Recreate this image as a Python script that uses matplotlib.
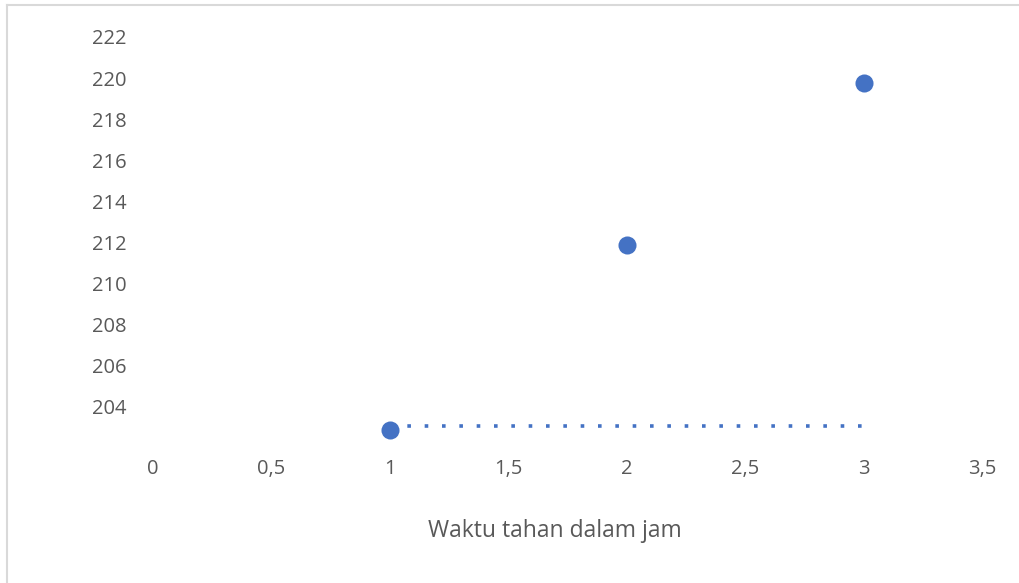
import matplotlib.pyplot as plt
from matplotlib.lines import Line2D

# data
waktu = [1, 2, 3]
nilai = [202.9, 211.9, 219.75]
garis_x = [1, 3]
garis_y = [203.05, 203.05]

x_ticks = [0, 0.5, 1, 1.5, 2, 2.5, 3, 3.5]
x_labels = ["0", "0,5", "1", "1,5", "2", "2,5", "3", "3,5"]
y_ticks = [204, 206, 208, 210, 212, 214, 216, 218, 220, 222]

plt.rcParams["font.family"] = ["Open Sans", "DejaVu Sans"]

BLUE = "#4472C4"
GRAY = "#595959"

fig = plt.figure(figsize=(10.2, 5.83), dpi=100)
ax = fig.add_axes([153 / 1020, 1 - 448 / 583, (982 - 153) / 1020, (448 - 37) / 583])

ax.plot(garis_x, garis_y, color=BLUE, linewidth=2.6, dashes=(1, 3.8),
        dash_capstyle="butt", zorder=2)
ax.plot(waktu, nilai, "o", color=BLUE, markersize=13, markeredgewidth=0, zorder=3)

ax.set_xlim(0, 3.5)
ax.set_ylim(202, 222)
ax.set_xticks(x_ticks)
ax.set_xticklabels(x_labels)
ax.set_yticks(y_ticks)
ax.tick_params(axis="both", length=0, labelsize=14.5, labelcolor=GRAY)
ax.tick_params(axis="y", pad=19)
ax.tick_params(axis="x", pad=8)
for s in ax.spines.values():
    s.set_visible(False)

fig.text(555 / 1020, 1 - 531 / 583, "Waktu tahan dalam jam", ha="center",
         va="center", fontsize=16.5, color=GRAY)

# chart area border (top and left visible)
fig.add_artist(Line2D([7 / 1020, 7 / 1020], [0, 1 - 5 / 583],
                      transform=fig.transFigure, color="#D9D9D9", linewidth=1.5))
fig.add_artist(Line2D([7 / 1020, 1], [1 - 5 / 583, 1 - 5 / 583],
                      transform=fig.transFigure, color="#D9D9D9", linewidth=1.5))

fig.savefig("out.png", dpi=100)
